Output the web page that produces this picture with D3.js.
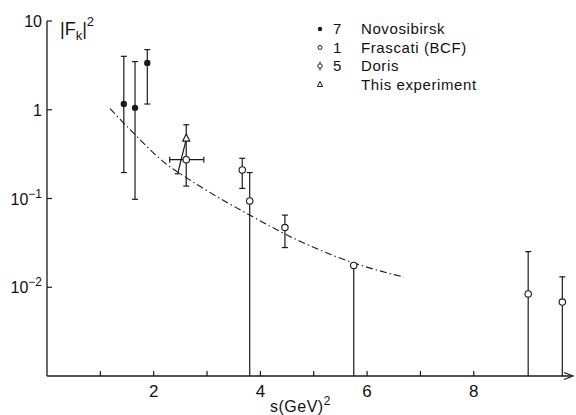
<!DOCTYPE html>
<html>
<head>
    <meta charset="utf-8">
    <title>Kaon form factor</title>
    <script src="https://d3js.org/d3.v7.min.js"></script>
    <style>
        body { margin: 0; background: #fff; }
        text { font-family: "Liberation Sans", Arial, sans-serif; fill: #111; }
    </style>
</head>
<body>
<script>
    // values
    const novoS  = [1.44, 1.65, 1.88];
    const novoF  = [1.16, 1.05, 3.37];
    const novoLo = [0.196, 0.098, 1.16];
    const novoHi = [4.0, 3.49, 4.76];

    const frasS  = [2.61];
    const frasF  = [0.274];
    const frasLo = [0.138];
    const frasHi = [0.677];
    const frasSLo = [2.30];
    const frasSHi = [2.94];

    const dorisS  = [3.66, 3.80, 4.46, 5.75, 9.02, 9.66];
    const dorisF  = [0.21, 0.094, 0.047, 0.0176, 0.0084, 0.0068];
    const dorisLo = [0.130, 0.001, 0.028, 0.001, 0.001, 0.001];   // 0.001 = down to the axis
    const dorisHi = [0.284, 0.196, 0.065, 0.0176, 0.0252, 0.0131];

    const expS  = [2.61];
    const expF  = [0.467];
    const expLoS = [2.45];
    const expLo  = [0.19];

    const curveS = [1.18, 1.61, 2.24, 2.61, 2.86, 3.80, 4.74, 5.75, 6.69];
    const curveF = [1.03, 0.555, 0.243, 0.172, 0.138, 0.065, 0.033, 0.0188, 0.013];

    const yTicks = [10, 1, 0.1, 0.01];
    const yTickLabels = [["10", ""], ["1", ""], ["10", "-1"], ["10", "-2"]];
    const xTicks = [1, 2, 3, 4, 5, 6, 7, 8];
    const xLabels = [2, 4, 6, 8];

    const legendNames = ["Novosibirsk", "Frascati (BCF)", "Doris", "This experiment"];
    const legendCounts = ["7", "1", "5", ""];

    const width = 576, height = 415;
    const ink = "#1a1a1a";

    const svg = d3.select("body").append("svg")
        .attr("width", width)
        .attr("height", height);

    const x = d3.scaleLinear().domain([0, 9.86]).range([47, 573]);
    const y = d3.scaleLog().domain([1e-3, 10]).range([376, 21]);

    // axes
    svg.append("line")
        .attr("x1", x(0)).attr("x2", x(0))
        .attr("y1", y(1e-3)).attr("y2", y(10))
        .attr("stroke", ink).attr("stroke-width", 1.3);
    svg.append("line")
        .attr("x1", x(0)).attr("x2", x(9.86) - 2)
        .attr("y1", y(1e-3)).attr("y2", y(1e-3))
        .attr("stroke", ink).attr("stroke-width", 1.3);
    // arrow head
    svg.append("path")
        .attr("d", `M${x(9.86) - 9},${y(1e-3) - 3.5} L${x(9.86)},${y(1e-3)} L${x(9.86) - 9},${y(1e-3) + 3.5}`)
        .attr("fill", "none").attr("stroke", ink).attr("stroke-width", 1.2);

    svg.selectAll(".ytick")
        .data(yTicks)
        .enter()
        .append("line")
        .attr("x1", x(0)).attr("x2", x(0) + 5)
        .attr("y1", d => y(d)).attr("y2", d => y(d))
        .attr("stroke", ink).attr("stroke-width", 1.2);

    const ylab = svg.selectAll(".ylab")
        .data(yTicks)
        .enter()
        .append("text")
        .attr("x", x(0) - 5)
        .attr("y", d => y(d) + 6)
        .attr("text-anchor", "end")
        .attr("font-size", 16);
    ylab.append("tspan").text((d, i) => yTickLabels[i][0]);
    ylab.append("tspan")
        .attr("dy", -7)
        .attr("font-size", 12)
        .text((d, i) => yTickLabels[i][1] ? "\u2212" + yTickLabels[i][1].slice(1) : "");

    svg.selectAll(".xtick")
        .data(xTicks)
        .enter()
        .append("line")
        .attr("x1", d => x(d)).attr("x2", d => x(d))
        .attr("y1", y(1e-3)).attr("y2", y(1e-3) - 5)
        .attr("stroke", ink).attr("stroke-width", 1.2);

    svg.selectAll(".xlab")
        .data(xLabels)
        .enter()
        .append("text")
        .attr("x", d => x(d))
        .attr("y", y(1e-3) + 21)
        .attr("text-anchor", "middle")
        .attr("font-size", 17)
        .text(d => d);

    const xt = svg.append("text")
        .attr("x", 270).attr("y", 412)
        .attr("font-size", 16)
        .attr("letter-spacing", 0.5);
    xt.append("tspan").text("s(GeV)");
    xt.append("tspan").attr("dy", -7).attr("font-size", 12).text("2");

    // y title |F_k|^2
    const yt = svg.append("text")
        .attr("x", 60).attr("y", 35)
        .attr("font-size", 18);
    yt.append("tspan").text("|F");
    yt.append("tspan").attr("dy", 5).attr("font-size", 13).text("k");
    yt.append("tspan").attr("dy", -5).text("|");
    yt.append("tspan").attr("dy", -9).attr("font-size", 13).text("2");

    // dash-dot curve
    const curvePts = curveS.map((s, i) => [s, curveF[i]]);
    svg.append("path")
        .datum(curvePts)
        .attr("d", d3.line().x(d => x(d[0])).y(d => y(d[1])).curve(d3.curveMonotoneX))
        .attr("fill", "none")
        .attr("stroke", ink)
        .attr("stroke-width", 1.1)
        .attr("stroke-dasharray", "7,3,1.5,3");

    // error bars helper
    function vbar(s, lo, hi, capLo, capHi) {
        svg.append("line")
            .attr("x1", x(s)).attr("x2", x(s))
            .attr("y1", y(lo)).attr("y2", y(hi))
            .attr("stroke", ink).attr("stroke-width", 1.2);
        if (capHi) svg.append("line")
            .attr("x1", x(s) - 3).attr("x2", x(s) + 3)
            .attr("y1", y(hi)).attr("y2", y(hi))
            .attr("stroke", ink).attr("stroke-width", 1.2);
        if (capLo) svg.append("line")
            .attr("x1", x(s) - 3).attr("x2", x(s) + 3)
            .attr("y1", y(lo)).attr("y2", y(lo))
            .attr("stroke", ink).attr("stroke-width", 1.2);
    }

    novoS.forEach((s, i) => vbar(s, novoLo[i], novoHi[i], true, true));
    frasS.forEach((s, i) => {
        vbar(s, frasLo[i], frasHi[i], true, true);
        svg.append("line")
            .attr("x1", x(frasSLo[i])).attr("x2", x(frasSHi[i]))
            .attr("y1", y(frasF[i])).attr("y2", y(frasF[i]))
            .attr("stroke", ink).attr("stroke-width", 1.2);
        [frasSLo[i], frasSHi[i]].forEach(e => svg.append("line")
            .attr("x1", x(e)).attr("x2", x(e))
            .attr("y1", y(frasF[i]) - 3).attr("y2", y(frasF[i]) + 3)
            .attr("stroke", ink).attr("stroke-width", 1.2));
    });
    dorisS.forEach((s, i) => {
        const toAxis = dorisLo[i] <= 0.001;
        if (dorisHi[i] > dorisF[i] || toAxis)
            vbar(s, dorisLo[i], dorisHi[i], !toAxis, dorisHi[i] > dorisF[i]);
    });
    // slanted error of this experiment
    expS.forEach((s, i) => {
        svg.append("line")
            .attr("x1", x(s)).attr("x2", x(expLoS[i]))
            .attr("y1", y(expF[i])).attr("y2", y(expLo[i]))
            .attr("stroke", ink).attr("stroke-width", 1.2);
        svg.append("line")
            .attr("x1", x(expLoS[i]) - 3).attr("x2", x(expLoS[i]) + 3)
            .attr("y1", y(expLo[i])).attr("y2", y(expLo[i]))
            .attr("stroke", ink).attr("stroke-width", 1.2);
    });

    // markers
    svg.selectAll(".novo")
        .data(novoS)
        .enter()
        .append("circle")
        .attr("cx", d => x(d))
        .attr("cy", (d, i) => y(novoF[i]))
        .attr("r", 3.2)
        .attr("fill", ink);

    const openPts = frasS.map((s, i) => [s, frasF[i]])
        .concat(dorisS.map((s, i) => [s, dorisF[i]]));
    svg.selectAll(".open")
        .data(openPts)
        .enter()
        .append("circle")
        .attr("cx", d => x(d[0]))
        .attr("cy", d => y(d[1]))
        .attr("r", 3.2)
        .attr("fill", "#fff")
        .attr("stroke", ink)
        .attr("stroke-width", 1.1);

    svg.selectAll(".exp")
        .data(expS)
        .enter()
        .append("path")
        .attr("d", (d, i) => {
            const cx = x(d), cy = y(expF[i]);
            return `M${cx},${cy - 5} L${cx + 3.5},${cy + 2} L${cx - 3.5},${cy + 2} Z`;
        })
        .attr("fill", "#fff")
        .attr("stroke", ink)
        .attr("stroke-width", 1.2);

    // legend
    const lx = 320, ly0 = 29, lstep = 18.5;
    const leg = svg.selectAll(".leg")
        .data(legendNames)
        .enter()
        .append("g")
        .attr("transform", (d, i) => `translate(${lx},${ly0 + i * lstep})`);

    leg.append("text")
        .attr("x", 13).attr("y", 5)
        .attr("font-size", 15)
        .text((d, i) => legendCounts[i]);
    leg.append("text")
        .attr("x", 41).attr("y", 5)
        .attr("font-size", 15)
        .attr("letter-spacing", 0.6)
        .text(d => d);

    leg.each(function (d, i) {
        const g = d3.select(this);
        if (i === 0) {
            g.append("circle").attr("r", 2.2).attr("fill", ink);
        } else if (i === 1) {
            g.append("circle").attr("r", 2).attr("fill", "#fff").attr("stroke", ink).attr("stroke-width", 1);
        } else if (i === 2) {
            g.append("circle").attr("r", 2.2).attr("fill", "#fff").attr("stroke", ink).attr("stroke-width", 1);
            g.append("line").attr("x1", 0).attr("x2", 0).attr("y1", -4.5).attr("y2", -2.2).attr("stroke", ink);
            g.append("line").attr("x1", 0).attr("x2", 0).attr("y1", 2.2).attr("y2", 4.5).attr("stroke", ink);
        } else {
            g.append("path").attr("d", "M0,-3 L2.6,2 L-2.6,2 Z")
                .attr("fill", "none").attr("stroke", ink).attr("stroke-width", 1);
        }
    });
</script>
</body>
</html>
